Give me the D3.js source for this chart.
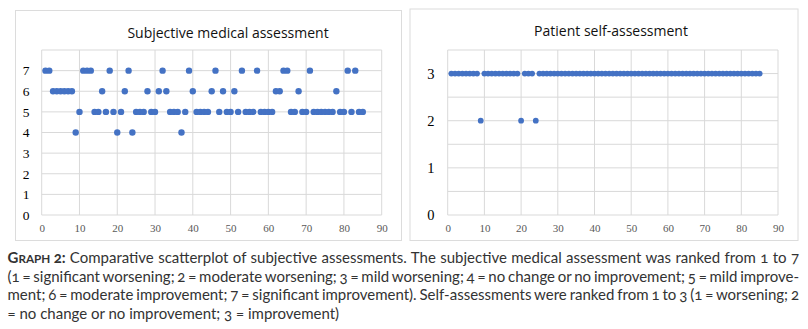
<!DOCTYPE html>
<html>
<head>
<meta charset="utf-8">
<script src="https://cdn.jsdelivr.net/npm/d3@7"></script>
<style>
  body { margin: 0; background: #fff; }
  svg { display: block; }
  .serif text { font-family: "Liberation Serif", serif; }
</style>
</head>
<body>
<script>
const width = 808, height = 329;

// patient index 1..85, scores per patient
const medical_scores = [
  7,7,6,6,6,6,6,6,4,5,
  7,7,7,5,5,6,5,7,5,4,
  5,6,7,4,5,5,5,6,5,5,
  6,7,6,5,5,5,4,5,7,6,
  5,5,5,5,6,7,5,6,5,5,
  6,5,7,5,5,5,7,5,5,5,
  5,6,6,7,7,5,5,6,5,5,
  7,5,5,5,5,5,5,6,5,5,
  7,5,7,5,5
];
const self_scores = [
  3,3,3,3,3,3,3,3,2,3,
  3,3,3,3,3,3,3,3,3,2,
  3,3,3,2,3,3,3,3,3,3,
  3,3,3,3,3,3,3,3,3,3,
  3,3,3,3,3,3,3,3,3,3,
  3,3,3,3,3,3,3,3,3,3,
  3,3,3,3,3,3,3,3,3,3,
  3,3,3,3,3,3,3,3,3,3,
  3,3,3,3,3
];
const x_ticks = [0,10,20,30,40,50,60,70,80,90];
const medical_y_ticks = [0,1,2,3,4,5,6,7];
const self_y_ticks = [0,1,2,3];
const self_grid = [0,0.5,1,1.5,2,2.5,3,3.5];

const caption_lines = [
  "Comparative scatterplot of subjective assessments. The subjective medical assessment was ranked from 1 to 7",
  "(1 = significant worsening; 2 = moderate worsening; 3 = mild worsening; 4 = no change or no improvement; 5 = mild improve-",
  "ment; 6 = moderate improvement; 7 = significant improvement). Self-assessments were ranked from 1 to 3 (1 = worsening; 2",
  "= no change or no improvement; 3 = improvement)"
];

const dot_color = "#4472c4";
const grid_color = "#d9d9d9";
const frame_color = "#dcdcdc";

const svg = d3.select("body").append("svg")
  .attr("width", width)
  .attr("height", height);

// ===============================================================
// Panels

const panels = [
  {
    title: "Subjective medical assessment",
    frame: {x: 15, y: 10, w: 386, h: 230},
    plot: {left: 41.7, right: 381.7, top: 50, bottom: 215},
    title_x: 228, title_y: 37.5,
    y_domain: [0, 8], y_grid: [0,1,2,3,4,5,6,7,8], y_ticks: medical_y_ticks,
    y_label_x: 29.5, y_font: 13.5,
    values: medical_scores, r: 3.2
  },
  {
    title: "Patient self-assessment",
    frame: {x: 409.5, y: 8.5, w: 388, h: 231.5},
    plot: {left: 447.7, right: 778, top: 50, bottom: 215},
    title_x: 611, title_y: 36,
    y_domain: [0, 3.5], y_grid: self_grid, y_ticks: self_y_ticks,
    y_label_x: 434.5, y_font: 14.5,
    values: self_scores, r: 2.9
  }
];

panels.forEach(p => {
  const g = svg.append("g");

  g.append("rect")
    .attr("x", p.frame.x + 0.5)
    .attr("y", p.frame.y + 0.5)
    .attr("width", p.frame.w)
    .attr("height", p.frame.h)
    .attr("fill", "#fff")
    .attr("stroke", frame_color);

  const x = d3.scaleLinear().domain([0, 90]).range([p.plot.left, p.plot.right]);
  const y = d3.scaleLinear().domain(p.y_domain).range([p.plot.bottom, p.plot.top]);

  // grid
  g.append("g").selectAll("line")
    .data(p.y_grid)
    .join("line")
      .attr("x1", p.plot.left).attr("x2", p.plot.right)
      .attr("y1", d => y(d)).attr("y2", d => y(d))
      .attr("stroke", grid_color);

  g.append("g").selectAll("line")
    .data(x_ticks)
    .join("line")
      .attr("x1", d => x(d)).attr("x2", d => x(d))
      .attr("y1", p.plot.top).attr("y2", p.plot.bottom)
      .attr("stroke", grid_color);

  // axis labels only, no tick marks or domain
  g.append("g")
    .attr("class", "serif")
    .attr("transform", `translate(0,${p.plot.bottom})`)
    .call(d3.axisBottom(x).tickValues(x_ticks).tickSize(0).tickPadding(9))
    .attr("font-size", 11)
    .call(a => a.select(".domain").remove())
    .selectAll("text")
      .attr("fill", "#595959");

  g.append("g")
    .attr("class", "serif")
    .attr("transform", `translate(${p.y_label_x},0)`)
    .call(d3.axisLeft(y).tickValues(p.y_ticks).tickFormat(d3.format("d")).tickSize(0).tickPadding(0))
    .attr("font-size", p.y_font)
    .call(a => a.select(".domain").remove())
    .selectAll("text")
      .attr("fill", "#000");

  g.append("text")
    .attr("x", p.title_x)
    .attr("y", p.title_y)
    .attr("text-anchor", "middle")
    .attr("fill", "#111")
    .attr("font-family", "'Open Sans', 'Noto Sans', sans-serif")
    .attr("font-size", 14)
    .text(p.title);

  g.append("g").selectAll("circle")
    .data(p.values)
    .join("circle")
      .attr("cx", (d, i) => x(i + 1))
      .attr("cy", d => y(d))
      .attr("r", p.r)
      .attr("fill", dot_color);
});

// ===============================================================
// Caption, justified across the page width

const cap_left = 7.5;
const cap_right = 799;
const cap_base = [263, 281.7, 300.3, 318.8];
const cap_font = 15;

const caption = svg.append("g")
  .attr("fill", "#333")
  .attr("font-family", "Lato, 'Open Sans', sans-serif")
  .attr("font-size", cap_font)
  .style("font-variant-numeric", "oldstyle-nums");

caption_lines.forEach((line, i) => {
  const t = caption.append("text")
    .attr("x", cap_left)
    .attr("y", cap_base[i]);

  if (i === 0) {
    t.append("tspan").attr("font-weight", 700).text("G");
    t.append("tspan").attr("font-weight", 700).attr("font-size", cap_font * 0.78).text("RAPH ");
    t.append("tspan").attr("font-weight", 700).text("2: ");
  }
  t.append("tspan").text(line);

  if (i < 3) {
    const natural = t.node().getComputedTextLength();
    const gaps = (i === 0 ? line.split(" ").length + 1 : line.split(" ").length - 1);
    t.style("word-spacing", ((cap_right - cap_left - natural) / gaps) + "px");
  }
});
</script>
</body>
</html>
